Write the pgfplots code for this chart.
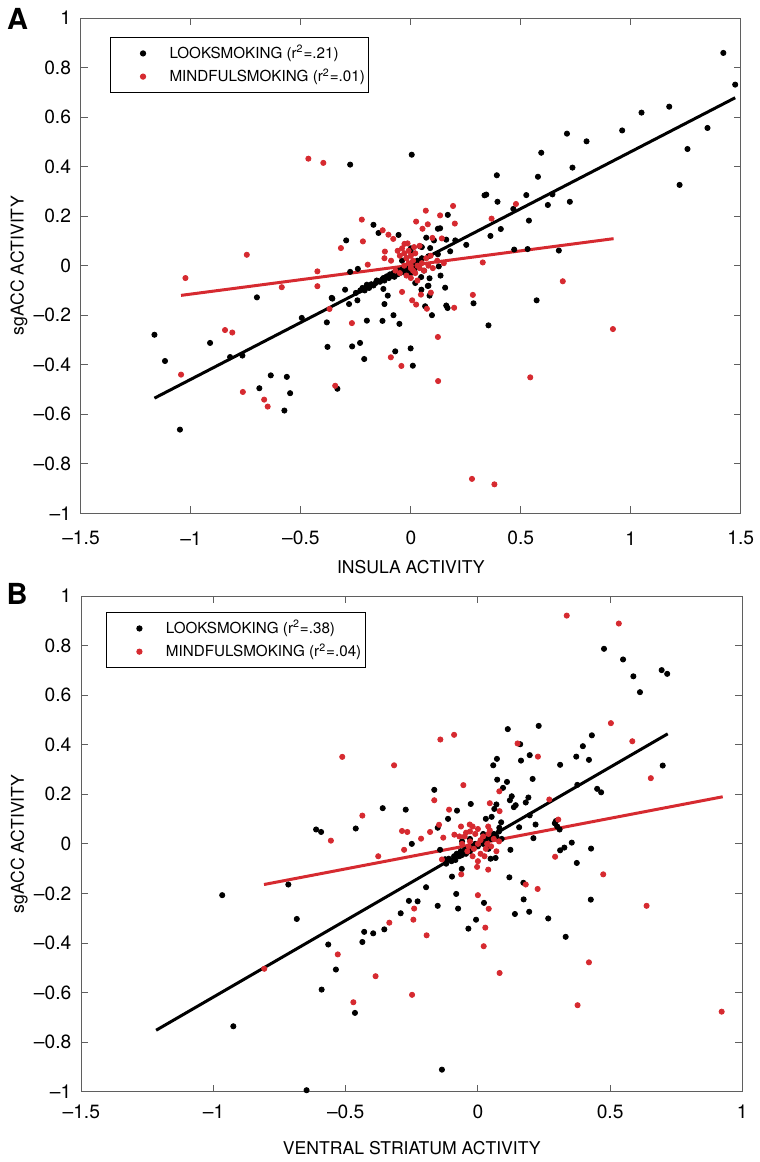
\documentclass[border=0pt]{standalone}
\usepackage{pgfplots}
\pgfplotsset{compat=1.18}
\usepackage{fontspec}
\setmainfont{TeX Gyre Heros}
\definecolor{mred}{RGB}{214,42,48}
\definecolor{axgray}{RGB}{95,95,95}
\pgfplotsset{
  myaxis/.style={
    scale only axis,
    axis line style={axgray, line width=0.5pt},
    every tick/.style={axgray, line width=0.5pt},
    major tick length=3.5pt,
    tick align=inside,
    tick pos=both,
    ymin=-1, ymax=1,
    ytick={-1,-0.8,-0.6,-0.4,-0.2,0,0.2,0.4,0.6,0.8,1},
    yticklabels={\textendash1,\textendash0.8,\textendash0.6,\textendash0.4,\textendash0.2,0,0.2,0.4,0.6,0.8,1},
    ticklabel style={font=\fontsize{9.6}{11}\selectfont},
    yticklabel style={anchor=east, inner sep=0pt, xshift=-4.8pt},
    label style={font=\fontsize{8.8}{10}\selectfont},
    ylabel={sgACC ACTIVITY},
    ylabel style={at={(axis description cs:-0.094,0.5)}, anchor=center},
    legend cell align=left,
    legend style={draw=black, line width=0.5pt, font=\fontsize{7.6}{9}\selectfont, anchor=north west, row sep=-0.5pt, inner xsep=0pt},
    clip=false,
  },
  blk/.style={only marks, mark=*, mark size=1.3pt, color=black, mark options={draw=none, fill=black},
    legend image code/.code={\path (0pt,0pt) (27pt,0pt); \draw[##1] plot coordinates {(16pt,0pt)};}},
  rd/.style={only marks, mark=*, mark size=1.3pt, color=mred, mark options={draw=none, fill=mred},
    legend image code/.code={\path (0pt,0pt) (27pt,0pt); \draw[##1] plot coordinates {(16pt,0pt)};}},
}
\begin{document}
\begin{tikzpicture}
\path[use as bounding box] (0,0) rectangle (380pt,-581pt);
% ---------------- Panel A ----------------
\begin{axis}[myaxis,
  at={(40.5pt,-256.65pt)}, anchor=south west,
  width=329.85pt, height=247.65pt,
  xmin=-1.5, xmax=1.5,
  xtick={-1.5,-1,-0.5,0,0.5,1,1.5},
  xticklabels={\textendash1.5,\textendash1,\textendash0.5,0,0.5,1,1.5},
  xticklabel style={anchor=center, inner sep=0pt, yshift=-12.5pt},
  xlabel={INSULA ACTIVITY},
  xlabel style={at={(axis description cs:0.5,-0.109)}, anchor=center},
  legend style={at={(0.044,0.962)}},
]
\addplot[blk] coordinates {
(-0.276,0.408) (-0.294,0.102) (-0.170,0.165) (-0.147,0.132) (-0.241,-0.013) (-0.276,-0.025) (-0.200,-0.077) (-0.299,-0.097) (-0.700,-0.128) (-0.360,-0.130)
(-1.166,-0.279) (-1.118,-0.385) (-1.050,-0.662) (-0.913,-0.312) (-0.822,-0.369) (-0.766,-0.363) (-0.689,-0.495) (-0.637,-0.443) (-0.575,-0.585) (-0.564,-0.449) (-0.549,-0.515) (-0.496,-0.211) (-0.382,-0.229) (-0.379,-0.328) (-0.357,-0.133) (-0.334,-0.497) (-0.281,-0.155) (-0.267,-0.326) (-0.243,-0.140) (-0.231,-0.312) (-0.212,-0.377) (-0.200,-0.222)
(1.421,0.859) (1.475,0.731) (1.175,0.642) (1.049,0.618) (0.961,0.546) (1.349,0.556) (1.258,0.471) (1.222,0.326) (0.710,0.533) (0.799,0.502) (0.593,0.456) (0.735,0.396) (0.578,0.359) (0.391,0.365) (0.004,0.448) (0.335,0.284) (0.343,0.287) (0.525,0.285) (0.644,0.288) (0.394,0.258) (0.723,0.258) (0.623,0.245) (0.466,0.229) (0.537,0.182) (0.409,0.148) (0.362,0.120) (0.252,0.084) (0.168,0.205) (0.123,0.149) (0.133,0.151) (0.070,0.113) (0.105,0.102) (0.202,0.102) (0.470,0.065) (0.531,0.067) (0.673,0.061) (0.179,0.058) (-0.056,0.124) (0.127,-0.003) (0.135,-0.040) (0.085,-0.051) (0.156,-0.089) (0.047,-0.046) (0.080,-0.081) (0.020,-0.070) (-0.105,-0.121) (0.085,-0.121) (0.572,-0.140)
(0.353,-0.241) (0.285,-0.152) (0.161,-0.161) (0.167,-0.171) (0.096,-0.200) (0.065,-0.164) (0.077,-0.082) (0.048,-0.097) (-0.001,-0.334) (0.009,-0.404) (-0.052,-0.235) (-0.079,-0.200) (-0.071,-0.346) (-0.129,-0.223) (-0.120,-0.155) (-0.125,-0.094)
(0.161,0.105) (0.123,0.046) (0.042,0.078) (0.088,0.071) (0.080,0.038) (0.000,0.070) (0.009,0.050) (0.050,0.075)
(-0.147,-0.063) (-0.109,-0.043) (-0.064,-0.030)
(-0.25,-0.11) (-0.23,-0.10) (-0.22,-0.09) (-0.21,-0.10) (-0.20,-0.085) (-0.19,-0.09) (-0.18,-0.075) (-0.17,-0.08) (-0.16,-0.07) (-0.155,-0.06) (-0.14,-0.065) (-0.13,-0.055) (-0.125,-0.05) (-0.12,-0.06) (-0.11,-0.045) (-0.10,-0.05) (-0.095,-0.035) (-0.09,-0.04) (-0.08,-0.03) (-0.075,-0.045) (-0.07,-0.025) (-0.06,-0.035) (-0.055,-0.02) (-0.05,-0.03) (-0.04,-0.015) (-0.035,-0.025) (-0.03,-0.01) (-0.02,-0.02) (-0.015,0.0) (-0.01,-0.01) (0.0,0.0) (0.01,0.005) (0.02,-0.01) (0.03,0.02) (0.04,0.01) (0.05,0.03) (-0.04,0.02) (0.0,-0.03) (0.06,-0.02) (-0.02,0.03)
};
\addlegendentry{LOOKSMOKING (r\textsuperscript{2}=.21)}
\addplot[rd] coordinates {
(-0.466,0.432) (-0.398,0.415) (-0.223,0.186) (-0.218,0.098) (-0.318,0.071) (-0.196,0.004) (-0.425,-0.023) (-0.746,0.044) (-1.025,-0.050) (-0.587,-0.087) (-0.425,-0.083)
(-1.045,-0.440) (-0.845,-0.260) (-0.812,-0.270) (-0.764,-0.510) (-0.667,-0.541) (-0.651,-0.569) (-0.370,-0.175) (-0.344,-0.485) (-0.268,-0.232)
(0.691,-0.063) (0.919,-0.256) (0.543,-0.451) (0.278,-0.861) (0.380,-0.883) (0.123,-0.288) (0.124,-0.466) (0.282,-0.118) (0.197,-0.170) (0.073,-0.174) (0.091,-0.109) (0.046,-0.117) (0.024,-0.157) (0.006,-0.140) (-0.040,-0.106) (-0.091,-0.370) (-0.043,-0.405)
(0.192,0.241) (0.068,0.222) (0.133,0.203) (0.024,0.178) (0.077,0.167) (0.200,0.170) (0.053,0.149) (0.478,0.249) (0.367,0.190) (-0.128,0.143) (-0.102,0.125) (0.098,0.112) (0.141,0.110) (0.327,0.013)
(-0.080,0.108) (-0.029,0.088) (-0.118,0.057)
(-0.06,0.06) (-0.05,0.04) (-0.04,0.07) (-0.03,0.05) (-0.02,0.03) (-0.01,0.06) (0.0,0.04) (0.01,0.02) (0.02,0.05) (0.03,0.0) (-0.03,0.0) (-0.01,0.01) (0.0,-0.01) (0.01,-0.02) (0.02,-0.03) (0.04,-0.01) (0.05,0.01) (0.06,-0.02) (0.08,0.0) (0.10,-0.01) (0.12,0.02) (-0.07,-0.02) (-0.05,-0.03) (-0.02,-0.04) (0.0,-0.05) (0.03,-0.06) (-0.09,0.02) (0.07,0.03) (0.04,0.08) (-0.015,0.09) (0.015,0.075) (0.09,0.04) (-0.12,0.03) (0.15,0.01) (0.0,0.0)
};
\addlegendentry{MINDFULSMOKING (r\textsuperscript{2}=.01)}
\addplot[black, line width=1.5pt, forget plot] coordinates {(-1.166,-0.535) (1.475,0.678)};
\addplot[mred, line width=1.5pt, forget plot] coordinates {(-1.045,-0.120) (0.922,0.109)};
\end{axis}
\node[font=\bfseries\fontsize{14.5}{16}\selectfont, anchor=center, inner sep=0pt] at (8.75pt,-9.5pt) {A};
% ---------------- Panel B ----------------
\begin{axis}[myaxis,
  at={(40.65pt,-545.85pt)}, anchor=south west,
  width=330.5pt, height=247.85pt,
  xmin=-1.5, xmax=1,
  xtick={-1.5,-1,-0.5,0,0.5,1},
  xticklabels={\textendash1.5,\textendash1,\textendash0.5,0,0.5,1},
  xticklabel style={anchor=center, inner sep=0pt, yshift=-10pt},
  xlabel={VENTRAL STRIATUM ACTIVITY},
  xlabel style={at={(axis description cs:0.5,-0.1136)}, anchor=center},
  legend style={at={(0.038,0.968)}},
]
\addplot[blk] coordinates {
(-0.612,0.058) (-0.593,0.048) (-0.462,0.062)
(-0.967,-0.207) (-0.717,-0.164) (-0.685,-0.303) (-0.925,-0.736) (-0.648,-0.994) (-0.591,-0.588) (-0.566,-0.406) (-0.537,-0.507) (-0.465,-0.682) (-0.437,-0.396) (-0.430,-0.355) (-0.396,-0.361)
(0.477,0.787) (0.549,0.744) (0.588,0.676) (0.695,0.701) (0.716,0.686) (0.613,0.612) (0.699,0.316) (0.113,0.463) (0.230,0.476) (0.160,0.402) (0.196,0.358) (0.163,0.336) (0.072,0.343) (0.058,0.317) (0.397,0.394) (0.431,0.438) (0.372,0.352) (0.420,0.339) (0.311,0.319) (0.073,0.259) (0.110,0.250) (0.207,0.262) (-0.165,0.218) (0.095,0.226) (0.128,0.192) (0.191,0.187) (0.181,0.167) (0.143,0.156) (0.136,0.148) (0.121,0.176) (0.376,0.238) (0.451,0.222) (0.466,0.208) (0.374,-0.077) (0.428,-0.019) (0.355,0.005) (0.327,-0.015) (0.311,-0.026) (0.309,0.058) (0.291,0.083) (0.300,0.070) (0.295,0.092) (0.210,0.023) (0.218,0.078) (0.196,0.115) (0.156,0.067) (0.119,-0.135) (0.067,-0.057) (0.081,0.065) (0.088,0.087) (0.052,0.109) (0.030,0.101) (0.062,0.141) (0.070,0.159) (-0.027,0.161) (-0.079,0.134) (-0.113,0.101) (-0.152,0.065) (-0.250,0.000) (-0.273,0.138) (-0.360,0.144) (-0.098,-0.132) (-0.143,-0.024) (-0.124,-0.062)
(-0.136,-0.911) (0.332,-0.375) (0.266,-0.301) (0.427,-0.225) (0.194,-0.274) (0.173,-0.224) (0.140,-0.283) (0.172,-0.157) (0.023,-0.238) (-0.007,-0.306) (-0.036,-0.342) (-0.075,-0.261) (-0.082,-0.202) (-0.061,-0.101) (-0.152,-0.250) (-0.196,-0.175) (-0.228,-0.232) (-0.261,-0.230) (-0.292,-0.280) (-0.354,-0.345)
(0.048,-0.060) (0.123,-0.024)
(-0.12,-0.08) (-0.11,-0.06) (-0.10,-0.07) (-0.09,-0.05) (-0.085,-0.065) (-0.08,-0.04) (-0.07,-0.05) (-0.065,-0.03) (-0.06,-0.045) (-0.05,-0.025) (-0.045,-0.04) (-0.04,-0.02) (-0.03,-0.03) (-0.025,-0.01) (-0.02,-0.015) (-0.01,0.0) (0.0,-0.01) (0.01,0.01) (0.02,0.0) (0.03,0.02) (0.04,0.03) (0.05,0.02) (0.06,0.04) (0.07,0.03) (0.08,0.05) (-0.03,0.02) (0.02,0.04) (0.04,-0.02) (-0.06,0.01) (0.09,0.02)
};
\addlegendentry{LOOKSMOKING (r\textsuperscript{2}=.38)}
\addplot[rd] coordinates {
(-0.513,0.351) (-0.437,0.114) (-0.556,0.013) (-0.377,-0.050)
(-0.808,-0.504) (-0.530,-0.446) (-0.471,-0.639) (-0.387,-0.534)
(0.336,0.921) (0.533,0.889) (0.503,0.487) (0.584,0.414) (0.654,0.265) (0.150,0.405) (0.227,0.352) (-0.142,0.421) (-0.090,0.440) (-0.317,0.317) (-0.055,0.237) (-0.165,0.176) (-0.109,0.138) (0.081,0.212) (0.045,0.164) (0.082,0.132) (0.270,0.179) (0.304,0.098) (-0.287,0.052) (-0.267,0.048) (-0.215,0.021) (-0.181,0.048) (-0.131,0.025) (-0.279,-0.024) (0.292,-0.052) (0.474,-0.123) (-0.063,-0.123) (0.039,-0.104) (-0.003,-0.093) (-0.089,0.037) (-0.147,0.077) (-0.064,0.070) (-0.031,0.078) (0.039,0.070)
(0.922,-0.677) (0.638,-0.250) (0.377,-0.651) (0.420,-0.478) (0.226,-0.182) (0.181,-0.164) (0.082,-0.521) (0.000,-0.207) (0.041,-0.262) (0.028,-0.338) (0.022,-0.413) (-0.194,-0.369) (-0.241,-0.261) (-0.244,-0.306) (-0.249,-0.609) (-0.335,-0.318) (-0.136,-0.063)
(-0.06,0.0) (-0.05,0.03) (-0.04,-0.03) (-0.03,0.05) (-0.02,-0.05) (-0.01,0.04) (0.0,0.06) (0.01,-0.04) (0.02,0.03) (0.03,-0.02) (0.04,0.04) (0.05,-0.01) (0.06,0.02) (-0.03,0.01) (0.0,0.0) (0.01,0.015) (-0.015,-0.02) (0.025,-0.05) (0.045,0.055) (-0.045,0.045) (0.07,-0.03) (-0.07,0.03) (0.0,-0.07) (0.08,0.01) (-0.02,0.07) (0.035,0.0) (-0.035,-0.01)
};
\addlegendentry{MINDFULSMOKING (r\textsuperscript{2}=.04)}
\addplot[black, line width=1.5pt, forget plot] coordinates {(-1.217,-0.752) (0.718,0.444)};
\addplot[mred, line width=1.5pt, forget plot] coordinates {(-0.809,-0.164) (0.926,0.190)};
\end{axis}
\node[font=\bfseries\fontsize{14.5}{16}\selectfont, anchor=center, inner sep=0pt] at (8.5pt,-297pt) {B};
\end{tikzpicture}
\end{document}
